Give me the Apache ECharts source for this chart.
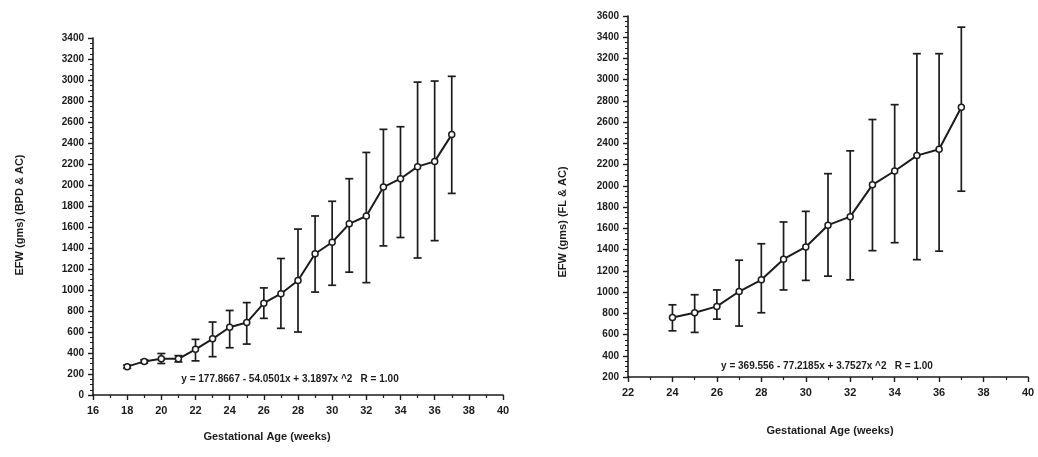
<!DOCTYPE html>
<html>
<head>
<meta charset="utf-8">
<script src="https://cdn.jsdelivr.net/npm/echarts@6/dist/echarts.min.js"></script>
<style>
  html, body { margin: 0; padding: 0; background: #fff; }
  #chart { width: 1038px; height: 457px; }
</style>
</head>
<body>
<div id="chart"></div>
<script>
// left panel: BPD & AC
const leftWeeks = [18, 19, 20, 21, 22, 23, 24, 25, 26, 27, 28, 29, 30, 31, 32, 33, 34, 35, 36, 37];
const leftMean = [270, 320, 345, 345, 435, 535, 645, 690, 875, 965, 1090, 1345, 1455, 1630, 1705, 1980, 2060, 2175, 2225, 2480];
const leftUpper = [285, 335, 395, 375, 530, 695, 805, 880, 1020, 1300, 1580, 1705, 1845, 2060, 2310, 2530, 2555, 2980, 2990, 3035];
const leftLower = [255, 305, 300, 315, 325, 365, 450, 485, 730, 635, 600, 980, 1045, 1170, 1070, 1420, 1500, 1305, 1470, 1920];
const leftEquation = "y = 177.8667 - 54.0501x + 3.1897x ^2   R = 1.00";

// right panel: FL & AC
const rightWeeks = [24, 25, 26, 27, 28, 29, 30, 31, 32, 33, 34, 35, 36, 37];
const rightMean = [760, 805, 865, 1005, 1115, 1310, 1425, 1630, 1710, 2010, 2140, 2285, 2345, 2740];
const rightUpper = [880, 975, 1020, 1300, 1455, 1660, 1760, 2115, 2330, 2625, 2765, 3245, 3245, 3495];
const rightLower = [635, 620, 745, 680, 805, 1020, 1110, 1150, 1115, 1390, 1465, 1305, 1385, 1950];
const rightEquation = "y = 369.556 - 77.2185x + 3.7527x ^2   R = 1.00";

const ink = "#1c1c1c";
const font = "Liberation Sans";

function errorBar(params, api) {
  const x = api.value(0);
  const lo = api.coord([x, api.value(1)]);
  const hi = api.coord([x, api.value(2)]);
  const half = 4;
  const style = { stroke: ink, lineWidth: 1.7 };
  return {
    type: "group",
    children: [
      { type: "line", shape: { x1: lo[0], y1: lo[1], x2: hi[0], y2: hi[1] }, style: style },
      { type: "line", shape: { x1: hi[0] - half, y1: hi[1], x2: hi[0] + half, y2: hi[1] }, style: style },
      { type: "line", shape: { x1: lo[0] - half, y1: lo[1], x2: lo[0] + half, y2: lo[1] }, style: style }
    ]
  };
}

function xAxisCfg(idx, min) {
  return {
    type: "value", gridIndex: idx, min: min, max: 40, interval: 2,
    axisLine: { lineStyle: { color: ink, width: 1.6 } },
    axisTick: { length: 5, lineStyle: { color: ink, width: 1.4 } },
    minorTick: { show: true, splitNumber: 2, length: 3, lineStyle: { color: ink, width: 1.2 } },
    splitLine: { show: false },
    axisLabel: { color: ink, fontFamily: font, fontWeight: "bold", fontSize: 11, margin: 10 }
  };
}

function yAxisCfg(idx, min, max) {
  return {
    type: "value", gridIndex: idx, min: min, max: max, interval: 200,
    axisLine: { lineStyle: { color: ink, width: 1.6 } },
    axisTick: { length: 5, lineStyle: { color: ink, width: 1.4 } },
    minorTick: { show: true, splitNumber: 4, length: 3, lineStyle: { color: ink, width: 1 } },
    splitLine: { show: false },
    axisLabel: {
      color: ink, fontFamily: font, fontWeight: "bold", fontSize: 10, margin: 9,
      formatter: v => String(v)
    }
  };
}

function lineSeries(idx, weeks, mean) {
  return {
    type: "line", xAxisIndex: idx, yAxisIndex: idx,
    data: weeks.map((w, i) => [w, mean[i]]),
    symbol: "circle", symbolSize: 6,
    lineStyle: { color: ink, width: 2 },
    itemStyle: { color: "#fff", borderColor: ink, borderWidth: 1.5 },
    z: 3
  };
}

function barSeries(idx, weeks, lower, upper) {
  return {
    type: "custom", xAxisIndex: idx, yAxisIndex: idx,
    data: weeks.map((w, i) => [w, lower[i], upper[i]]),
    encode: { x: 0, y: [1, 2] },
    renderItem: errorBar,
    z: 2
  };
}

// text centred on (x, y)
function label(text, x, y, size, rotate) {
  return {
    type: "text", x: x, y: y, rotation: rotate || 0,
    style: {
      text: text, fill: ink, align: "center", verticalAlign: "middle",
      font: "bold " + size + "px '" + font + "'"
    }
  };
}

const chart = echarts.init(document.getElementById("chart"));
chart.setOption({
  animation: false,
  grid: [
    { left: 93, right: 535, top: 38, bottom: 62 },
    { left: 628, right: 10, top: 16, bottom: 80 }
  ],
  xAxis: [xAxisCfg(0, 16), xAxisCfg(1, 22)],
  yAxis: [yAxisCfg(0, 0, 3400), yAxisCfg(1, 200, 3600)],
  series: [
    barSeries(0, leftWeeks, leftLower, leftUpper),
    lineSeries(0, leftWeeks, leftMean),
    barSeries(1, rightWeeks, rightLower, rightUpper),
    lineSeries(1, rightWeeks, rightMean)
  ],
  graphic: [
    label(leftEquation, 290, 379, 10),
    label(rightEquation, 827, 366, 10),
    label("Gestational Age (weeks)", 267, 437, 11),
    label("Gestational Age (weeks)", 830, 431, 11),
    label("EFW (gms) (BPD & AC)", 20, 215, 11, Math.PI / 2),
    label("EFW (gms) (FL & AC)", 563, 222, 11, Math.PI / 2)
  ]
});
</script>
</body>
</html>
